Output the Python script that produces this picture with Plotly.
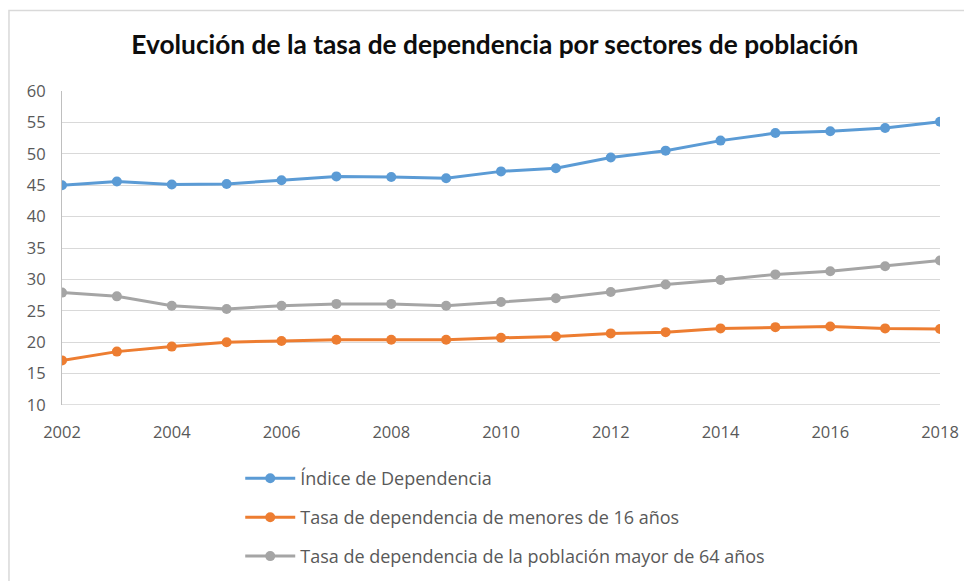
import plotly.graph_objects as go

years = list(range(2002, 2019))
indice_dependencia = [45.0, 45.6, 45.1, 45.2, 45.8, 46.4, 46.3, 46.1, 47.2,
                      47.7, 49.4, 50.5, 52.1, 53.3, 53.6, 54.1, 55.1]
menores_16 = [17.1, 18.5, 19.3, 20.0, 20.2, 20.4, 20.4, 20.4, 20.7,
              20.9, 21.4, 21.6, 22.2, 22.4, 22.5, 22.2, 22.1]
mayores_64 = [27.9, 27.3, 25.8, 25.3, 25.8, 26.1, 26.1, 25.8, 26.4,
              27.0, 28.0, 29.2, 29.9, 30.8, 31.3, 32.1, 33.0]

series = [
    ("Índice de Dependencia", indice_dependencia, "#5b9bd5"),
    ("Tasa de dependencia de menores de 16 años", menores_16, "#ed7d31"),
    ("Tasa de dependencia de la población mayor de 64 años", mayores_64, "#a5a5a5"),
]

fig = go.Figure()
for i, (name, vals, color) in enumerate(series):
    fig.add_trace(go.Scatter(
        x=years, y=vals, name=name, mode="lines+markers",
        line=dict(color=color, width=3),
        marker=dict(color=color, size=10),
        legendgroup=str(i),
    ))

# page body adds an 8px offset, so the figure is 8px smaller than the window
fig.update_layout(
    width=964, height=573,
    margin=dict(l=54, r=32, t=83, b=176),
    paper_bgcolor="white", plot_bgcolor="white",
    font=dict(family="Open Sans", size=16.5, color="#595959"),
    title=dict(
        text="<b>Evolución de la tasa de dependencia por sectores de población</b>",
        x=0.505, xanchor="center", y=0.935, yanchor="middle",
        font=dict(family="Lato", size=26.3, color="#0d0d0d"),
    ),
    xaxis=dict(
        range=[2002, 2018], tickvals=list(range(2002, 2019, 2)),
        showgrid=False, zeroline=False, showline=False,
        ticks="outside", ticklen=12, tickcolor="rgba(0,0,0,0)",
        tickfont=dict(size=16.5, color="#595959"),
    ),
    yaxis=dict(
        range=[10, 60], dtick=5, showgrid=True, gridcolor="#d9d9d9", gridwidth=1,
        zeroline=False, showline=True, linecolor="#bfbfbf", linewidth=1,
        ticks="outside", ticklen=12, tickcolor="rgba(0,0,0,0)",
        tickfont=dict(size=16.5, color="#595959"),
    ),
    legend=dict(
        orientation="v", x=0.203, xanchor="left",
        yref="container", y=0.211, yanchor="top",
        traceorder="grouped", tracegroupgap=12.5, itemwidth=50,
        font=dict(family="Open Sans", size=18, color="#595959"),
    ),
    showlegend=True,
)

# bottom axis line at y=10
fig.add_shape(type="line", xref="paper", yref="y", x0=0, x1=1, y0=10, y1=10,
              line=dict(color="#bfbfbf", width=1))
# outer chart frame (open at right and bottom, as in the reference)
fig.add_shape(type="rect", xref="paper", yref="paper",
              x0=-0.0604, x1=1.2, y0=-0.8, y1=1.256,
              line=dict(color="#d9d9d9", width=1.5), layer="below")

fig.write_html("out.html")
